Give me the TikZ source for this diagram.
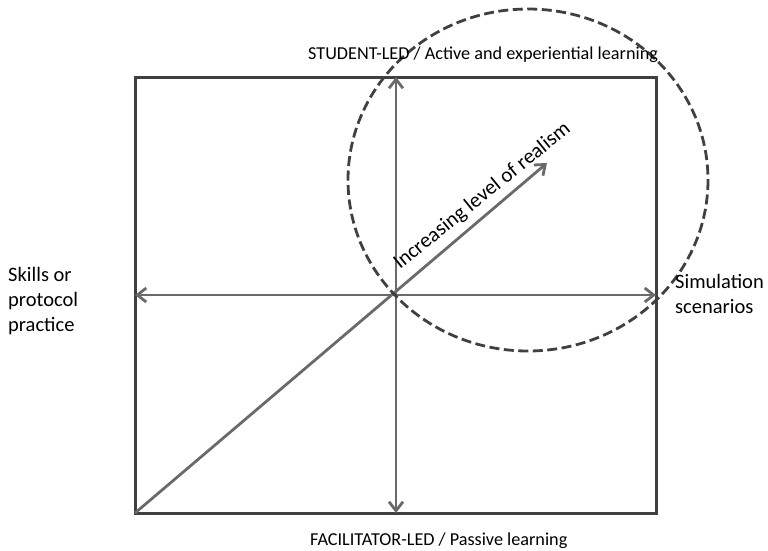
\documentclass[tikz,border=0pt]{standalone}
\usepackage{fontspec}
\setmainfont{Carlito}
\usetikzlibrary{arrows.meta}
\definecolor{boxgray}{HTML}{404040}
\definecolor{arrgray}{HTML}{6A6A6A}
\tikzset{
  boxline/.style={draw=boxgray, line width=3pt},
  axisarrow/.style={draw=arrgray, line width=2.8pt, {Straight Barb[length=9pt,width=14pt]}-{Straight Barb[length=9pt,width=14pt]}},
  diagarrow/.style={draw=arrgray, line width=2.8pt, -{Straight Barb[length=9pt,width=14pt]}},
  realm/.style={draw=boxgray, line width=2.8pt, dash pattern=on 10pt off 4.5pt},
  lab/.style={inner sep=0pt, text=black, font=\fontsize{18.2}{22}\selectfont},
  sidelab/.style={inner sep=0pt, text=black, align=left, font=\fontsize{20.5}{25}\selectfont},
}
\begin{document}
\begin{tikzpicture}[x=1pt, y=-1pt]
\useasboundingbox (0,0) rectangle (768,550);
\coordinate (tl) at (135,77);
\coordinate (br) at (656,513);
\coordinate (bl) at (135,513);
\coordinate (c) at (396,295);
\coordinate (top) at (396,77);
\coordinate (bot) at (396,513);
\coordinate (lft) at (135,295);
\coordinate (rgt) at (656,295);
\coordinate (tip) at (547,163);
\coordinate (ec) at (528,180);
\draw[boxline] (tl) rectangle (br);
\draw[axisarrow] (top) -- (bot);
\draw[axisarrow] (lft) -- (rgt);
\draw[diagarrow] (bl) -- (tip);
\draw[realm] (ec) ellipse [x radius=180, y radius=171];
\node[lab, anchor=base west] (tlab) at (308,59) {STUDENT-LED / Active and experiential learning};
\node[lab, anchor=base west] (blab) at (310,545) {FACILITATOR-LED / Passive learning};
\node[sidelab, anchor=north west] (llab) at (8,267) {Skills or\\protocol\\practice};
\node[sidelab, anchor=north west] (rlab) at (675,274) {Simulation\\scenarios};
\node[inner sep=0pt, anchor=base west, rotate=39, font=\fontsize{21}{25}\selectfont] (dlab) at (400,270) {Increasing level of realism};
\end{tikzpicture}
\end{document}
